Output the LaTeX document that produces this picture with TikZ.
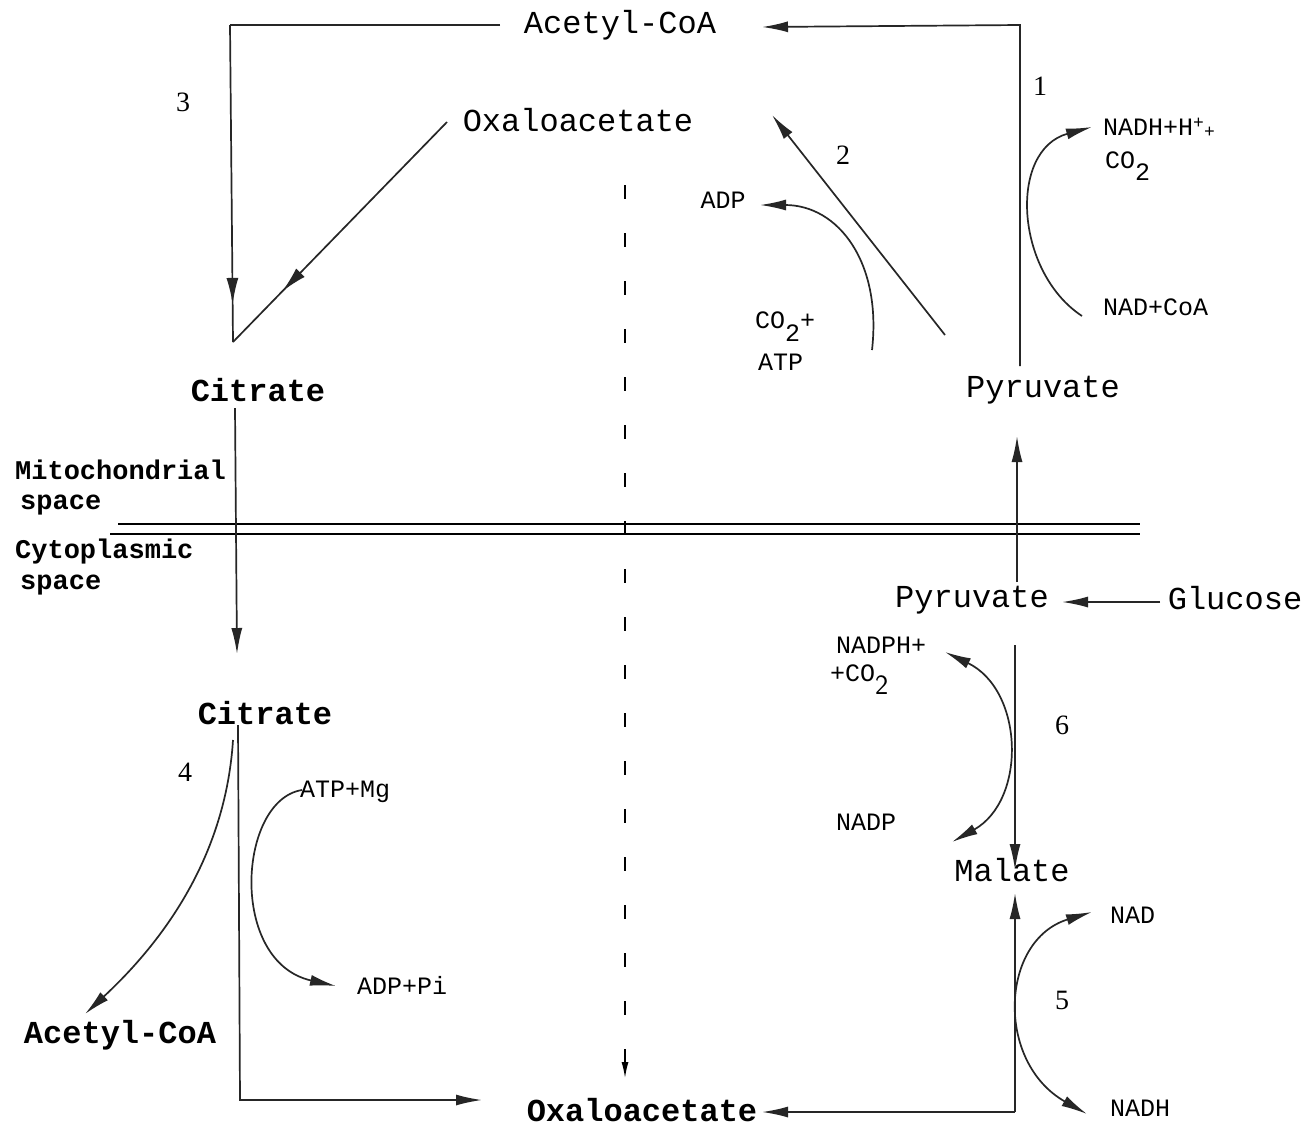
\documentclass[tikz,border=0pt]{standalone}
\usepackage{fontspec}
\setmainfont{Liberation Serif}
\newfontfamily\tw{Liberation Mono}
\usetikzlibrary{arrows.meta,decorations.markings}
\tikzset{
  mainL/.style={font=\tw\fontsize{32}{34}\selectfont, inner sep=0pt},
  mainB/.style={font=\tw\bfseries\fontsize{32}{34}\selectfont, inner sep=0pt},
  spc/.style={font=\tw\bfseries\fontsize{27}{30}\selectfont, inner sep=0pt},
  cof/.style={font=\tw\fontsize{25}{27}\selectfont, inner sep=0pt},
  num/.style={font=\fontsize{28}{30}\selectfont, inner sep=0pt},
  ln/.style={line width=1.7pt, draw=black!85},
  tipA/.style={-{Latex[length=26pt,width=11pt]}},
  tipB/.style={{Latex[length=26pt,width=11pt]}-{Latex[length=26pt,width=11pt]}},
  midarrow/.style={postaction={decorate},decoration={markings,
     mark=at position #1 with {\arrow{Latex[length=26pt,width=12pt]}}}},
}
\begin{document}
\begin{tikzpicture}[x=1pt,y=-1pt]
\fill[white] (0,0) rectangle (1305,1128);
\useasboundingbox (0,0) rectangle (1305,1128);

% metabolites
\node[mainL] (acoaT) at (620,25) {Acetyl-CoA};
\node[mainL] (oaaT) at (578,120) {Oxaloacetate};
\node[mainB] (citT) at (258,390) {Citrate};
\node[mainL] (pyrT) at (1043,390) {Pyruvate};
\node[spc, anchor=west] (mito) at (15,470) {Mitochondrial};
\node[spc, anchor=west] (mitos) at (20,505) {space};
\node[spc, anchor=west] (cyto) at (15,552) {Cytoplasmic};
\node[spc, anchor=west] (cytos) at (20,585) {space};
\node[mainL] (pyrB) at (972,600) {Pyruvate};
\node[mainL] (glu) at (1235,598) {Glucose};
\node[mainB] (citB) at (265,713) {Citrate};
\node[mainL] (mal) at (1012,870) {Malate};
\node[mainB] (acoaB) at (120,1035) {Acetyl-CoA};
\node[mainB] (oaaB) at (642,1110) {Oxaloacetate};

% numbers
\node[num] (n3) at (183,102) {3};
\node[num] (n1) at (1040,86) {1};
\node[num] (n2) at (843,155) {2};
\node[num] (n4) at (185,772) {4};
\node[num] (n6) at (1062,725) {6};
\node[num] (n5) at (1062,1000) {5};

% cofactors
\node[cof] (adp) at (723,200) {ADP};
\node[cof, anchor=west] (co2a) at (755,327) {CO\raisebox{-13pt}{2}+};
\node[cof, anchor=west] (atp) at (758,362) {ATP};
\node[cof, anchor=west] (nadh1) at (1103,128) {NADH+H\raisebox{7pt}{\fontsize{18}{18}\selectfont +}\raisebox{-2pt}{\fontsize{18}{18}\selectfont +}};
\node[cof, anchor=west] (co2b) at (1105,166) {CO\raisebox{-12pt}{2}};
\node[cof, anchor=west] (nadcoa) at (1103,307) {NAD+CoA};
\node[cof, anchor=west] (nadph) at (836,645) {NADPH+};
\node[cof, anchor=west] (co2c) at (830,680) {+CO\raisebox{-13pt}{\sffamily\fontsize{28}{28}\selectfont 2}};
\node[cof, anchor=west] (nadp) at (836,822) {NADP};
\node[cof, anchor=west] (nad) at (1110,915) {NAD};
\node[cof, anchor=west] (nadh5) at (1110,1108) {NADH};
\node[cof, anchor=west] (atpmg) at (300,792) {ATP+Mg};
\node[cof, anchor=west] (adppi) at (357,985) {ADP+Pi};

% membrane
\coordinate (m1a) at (118,524); \coordinate (m1b) at (1140,524);
\coordinate (m2a) at (110,534); \coordinate (m2b) at (1140,534);
\draw[line width=1.5pt] (m1a) -- (m1b);
\draw[line width=1.5pt] (m2a) -- (m2b);

% top loop: pyruvate -> acetyl-CoA
\coordinate (trc) at (1020,25);
\coordinate (pyrTtop) at (1020,366);
\coordinate (acoaTip) at (762,27);
\draw[ln,tipA] (pyrTtop) -- (trc) -- (acoaTip);

% acetyl-CoA -> citrate (3)
\coordinate (tlc) at (230,25);
\coordinate (vtx) at (233,342);
\coordinate (acoaW) at (500,25);
\draw[ln] (acoaW) -- (tlc);
\draw[ln,midarrow=0.88] (tlc) -- (vtx);
\coordinate (oaaStart) at (447,122);
\draw[ln,midarrow=0.77] (oaaStart) -- (vtx);

% reaction 2
\coordinate (r2s) at (945,335);
\coordinate (r2e) at (772,115);
\draw[ln,tipA] (r2s) -- (r2e);
\coordinate (adpS) at (872,350);
\coordinate (adpTip) at (760,205);
\draw[ln,tipA] (adpS) .. controls (882,262) and (838,205) .. (adpTip);

% reaction 1 side curve
\coordinate (r1s) at (1082,316);
\coordinate (r1e) at (1092,127);
\draw[ln,tipA] (r1s) .. controls (1015,272) and (1008,150) .. (r1e);

% citrate transport
\coordinate (citTs) at (235,408);
\coordinate (citTe) at (237,654);
\draw[ln,tipA] (citTs) -- (citTe);

% pyruvate transport up
\coordinate (pyrBs) at (1017,582);
\coordinate (pyrBe) at (1017,436);
\draw[ln,tipA] (pyrBs) -- (pyrBe);

% glucose -> pyruvate
\coordinate (gluS) at (1160,602);
\coordinate (gluE) at (1062,602);
\draw[ln,tipA] (gluS) -- (gluE);

% reaction 6
\coordinate (r6s) at (1015,645);
\coordinate (r6e) at (1015,870);
\draw[ln,tipA] (r6s) -- (r6e);
\coordinate (nadphTip) at (945,652);
\coordinate (nadpTip) at (952,842);
\draw[ln,tipB] (nadphTip) .. controls (1024,690) and (1027,800) .. (nadpTip);

% reaction 5
\coordinate (r5s) at (1015,1112);
\coordinate (r5e) at (1015,893);
\draw[ln,tipA] (r5s) -- (r5e);
\coordinate (nadTip) at (1092,912);
\coordinate (nadhTip) at (1087,1114);
\draw[ln,tipB] (nadTip) .. controls (1000,940) and (995,1062) .. (nadhTip);

% malate -> oxaloacetate (bottom)
\coordinate (oaaBtip) at (762,1112);
\draw[ln,tipA] (r5s) -- (oaaBtip);

% citrate lyase (4)
\coordinate (citBs) at (238,725);
\coordinate (blc) at (240,1100);
\coordinate (oaaBl) at (482,1100);
\draw[ln,tipA] (citBs) -- (blc) -- (oaaBl);
\coordinate (r4s) at (233,740);
\coordinate (r4e) at (85,1014);
\draw[ln,tipA] (r4s) .. controls (226,850) and (170,935) .. (r4e);
\coordinate (atpS) at (302,790);
\coordinate (adppiTip) at (336,986);
\draw[ln,tipA] (atpS) .. controls (238,800) and (228,962) .. (adppiTip);

% dashed line
\coordinate (dsh1) at (625,185);
\coordinate (dsh2) at (625,1078);
\draw[line width=1.4pt, dash pattern=on 14pt off 34pt, -{Latex[length=16pt,width=7pt]}] (dsh1) -- (dsh2);
\end{tikzpicture}
\end{document}
